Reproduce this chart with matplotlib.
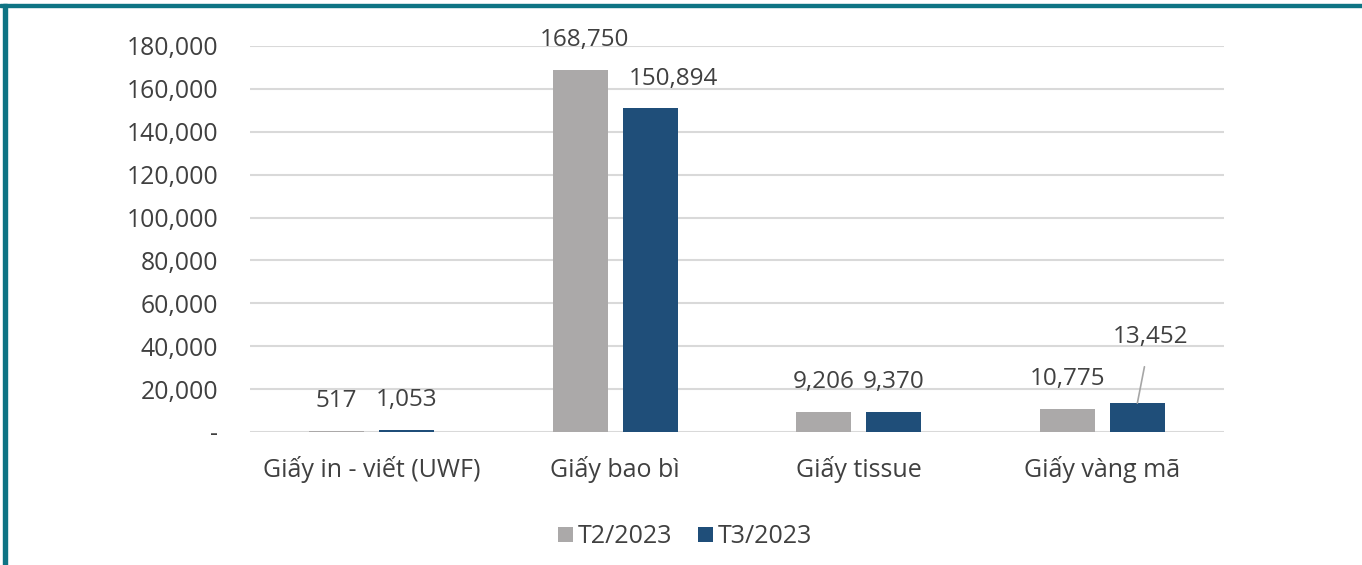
import matplotlib
matplotlib.use("Agg")
import matplotlib.pyplot as plt
from matplotlib.patches import Rectangle
from matplotlib.ticker import FuncFormatter
import numpy as np

categories = ["Giấy in - viết (UWF)", "Giấy bao bì", "Giấy tissue", "Giấy vàng mã"]
series_names = ["T2/2023", "T3/2023"]
t2_values = [517, 168750, 9206, 10775]
t3_values = [1053, 150894, 9370, 13452]
y_ticks = [0, 20000, 40000, 60000, 80000, 100000, 120000, 140000, 160000, 180000]

plt.rcParams['font.family'] = ['Open Sans', 'DejaVu Sans']
text_color = "#404040"
gray = "#ABA9A9"
blue = "#1F4E79"

fig = plt.figure(figsize=(13.62, 5.65), dpi=100)
ax = fig.add_axes([0.1836, 0.2354, 0.7151, 0.6832])

x = np.arange(len(categories))
w = 0.226
off = 0.144
b1 = ax.bar(x - off, t2_values, w, color=gray, label=series_names[0], zorder=3)
b2 = ax.bar(x + off, t3_values, w, color=blue, label=series_names[1], zorder=3)

ax.set_xlim(-0.5, len(categories) - 0.5)
ax.set_ylim(0, 180000)
ax.set_yticks(y_ticks)
ax.yaxis.set_major_formatter(FuncFormatter(lambda v, p: "-" if v == 0 else f"{int(v):,}"))
ax.grid(axis='y', color="#D9D9D9", linewidth=1.5, zorder=0)
for s in ax.spines.values():
    s.set_visible(False)
ax.tick_params(axis='both', length=0, colors=text_color, labelcolor=text_color)
ax.tick_params(axis='y', pad=23, labelsize=17.8)
ax.tick_params(axis='x', pad=17, labelsize=18)
ax.set_xticks(x)
ax.set_xticklabels(categories)

label_dx = {(1, 1): 17, (0, 1): 3}
for i, (bars, vals) in enumerate([(b1, t2_values), (b2, t3_values)]):
    for j, (rect, v) in enumerate(zip(bars, vals)):
        cx = rect.get_x() + rect.get_width() / 2
        if i == 1 and j == 3:
            ax.annotate(f"{v:,}", xy=(cx, v), xytext=(cx + 0.053, 44300),
                        ha='center', va='center', fontsize=17.5, color=text_color,
                        arrowprops=dict(arrowstyle='-', color="#A6A6A6", lw=1.2,
                                        shrinkA=11, shrinkB=0))
        else:
            ax.annotate(f"{v:,}", xy=(cx, v), xytext=(label_dx.get((i, j), 0), 21.5),
                        textcoords='offset points',
                        ha='center', va='center', fontsize=17.5, color=text_color)

leg = fig.legend(handles=[b1, b2], labels=series_names, loc='center', bbox_to_anchor=(0.503, 0.05),
                 ncol=2, frameon=False, fontsize=18, handlelength=0.6, handleheight=0.6,
                 handletextpad=0.2, columnspacing=1.0)
for t in leg.get_texts():
    t.set_color(text_color)

teal = "#0E7484"
fig.patches.append(Rectangle((0, 1 - 7/565), 1, 3/565, transform=fig.transFigure, color=teal, zorder=10))
fig.patches.append(Rectangle((3/1362, 0), 4/1362, 1 - 4/565, transform=fig.transFigure, color=teal, zorder=10))

fig.savefig("out.png", dpi=100)
